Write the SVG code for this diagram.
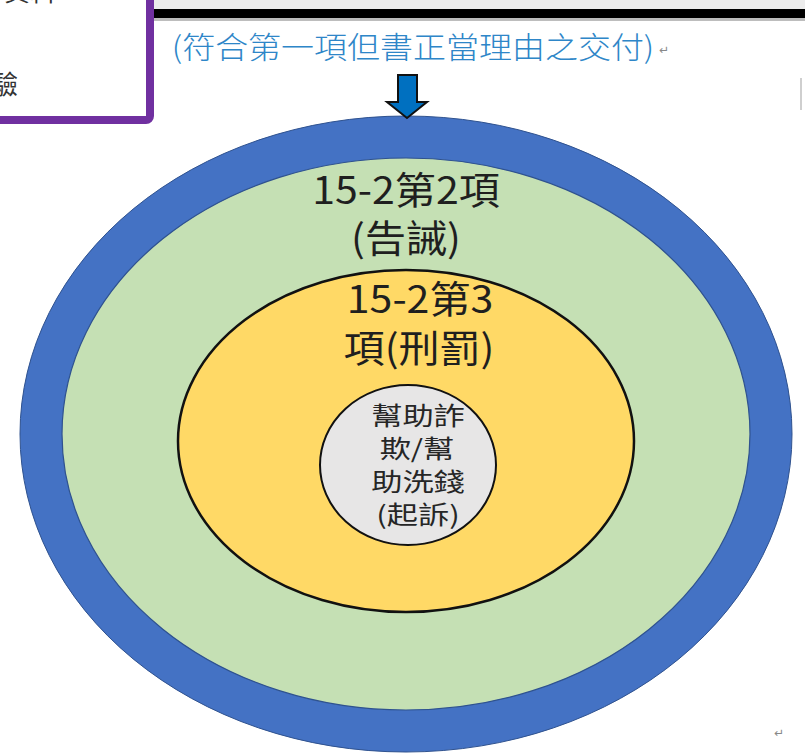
<svg xmlns="http://www.w3.org/2000/svg" width="805" height="754" viewBox="0 0 805 754">
<style>
.cjk{font-family:"Noto Sans CJK TC","Noto Sans CJK SC",sans-serif;text-anchor:middle}
.big{font-size:38px;fill:#1f1f1f}
.small{font-size:25px;fill:#262626}
.blue{font-size:30px;fill:#2E86C8;font-weight:300}
.mark{font-family:"DejaVu Sans",sans-serif;font-size:12px;fill:#888}
</style>
<rect width="805" height="754" fill="#ffffff"/>
<g id="page-top">
<rect x="150" y="0" width="655" height="10" fill="#ececec"/>
<rect x="150" y="9" width="655" height="9" fill="#000"/>
<rect x="150" y="18" width="655" height="3" fill="#bdbdbd"/>
<line x1="801" y1="78" x2="801" y2="110" stroke="#cfcfcf" stroke-width="2"/>
</g>
<g id="purple-box">
<rect x="-20" y="-20" width="170" height="140" rx="4" fill="#fff" stroke="#7030A0" stroke-width="8"/>
<text class="cjk" x="4" y="1" style="font-size:26px;fill:#333;text-anchor:start">資料</text>
<text class="cjk" x="-8" y="94" style="font-size:26px;fill:#333;text-anchor:start">驗</text>
</g>
<g id="header-label">
<text class="cjk blue" transform="translate(413,58) scale(1.1,1)" x="0" y="0">(符合第一項但書正當理由之交付)</text>
<text class="mark" x="659" y="54">↵</text>
</g>
<g id="outer">
<ellipse cx="406" cy="434" rx="365" ry="297" fill="#C5E0B4" stroke="#4472C4" stroke-width="42"/>
<ellipse cx="406" cy="434" rx="344" ry="276" fill="none" stroke="#2F528F" stroke-width="1.2"/>
<ellipse cx="406" cy="434" rx="386" ry="318" fill="none" stroke="#2F528F" stroke-width="1"/>
<text class="cjk big" transform="translate(406,204) scale(1.08,1)" x="0" y="0">15-2第2項</text>
<text class="cjk big" transform="translate(406,252) scale(1.08,1)" x="0" y="0">(告誡)</text>
</g>
<g id="middle">
<ellipse cx="406" cy="441" rx="228" ry="171" fill="#FFD966" stroke="#111" stroke-width="2.5"/>
<text class="cjk big" transform="translate(420,313) scale(1.08,1)" x="0" y="0">15-2第3</text>
<text class="cjk big" transform="translate(419,362) scale(1.08,1)" x="0" y="0">項(刑罰)</text>
</g>
<g id="inner">
<ellipse cx="408" cy="465" rx="88" ry="80" fill="#E7E6E6" stroke="#111" stroke-width="2"/>
<text class="cjk small" transform="translate(418,425) scale(1.25,1)" x="0" y="0">幫助詐</text>
<text class="cjk small" transform="translate(417,458) scale(1.25,1)" x="0" y="0">欺/幫</text>
<text class="cjk small" transform="translate(418,491) scale(1.25,1)" x="0" y="0">助洗錢</text>
<text class="cjk small" transform="translate(418,524) scale(1.25,1)" x="0" y="0">(起訴)</text>
</g>
<g id="connectors">
<polygon points="398,75 417,75 417,102 427,102 407,118 387,102 398,102" fill="#0070C0" stroke="#111" stroke-width="2" stroke-linejoin="miter"/>
</g>
<text class="mark" x="774" y="737">↵</text>
</svg>
